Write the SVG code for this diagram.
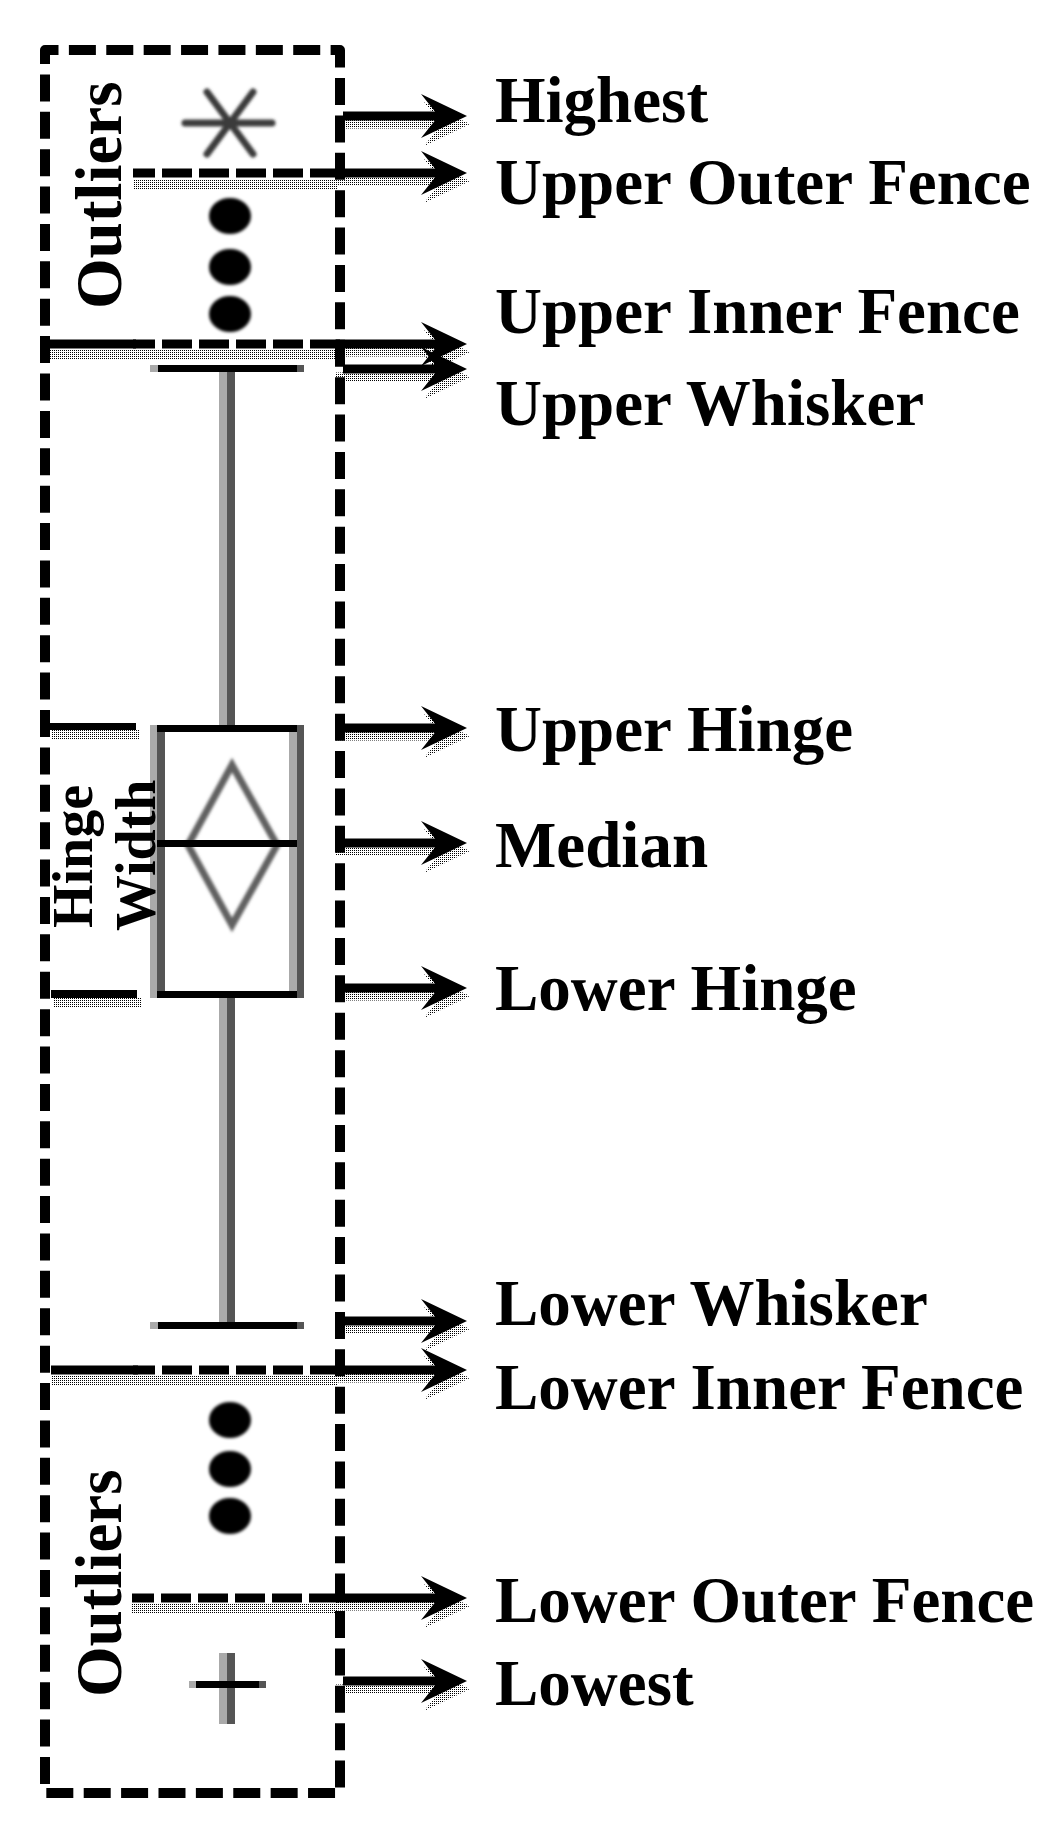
<svg xmlns="http://www.w3.org/2000/svg" width="1060" height="1831" viewBox="0 0 1060 1831">
<style>
.lbl{font-family:"Liberation Serif","Times New Roman",serif;font-weight:bold;font-size:65px;fill:#000}
.hw{font-size:56px}
.sh{fill:url(#st);stroke:none}
.shl{stroke:url(#st);stroke-width:9;fill:none}
.ln{stroke:#000;stroke-width:9;fill:none}
.dash{stroke-dasharray:30 7;stroke-dashoffset:8}
.lg{fill:#aaa}.dg{fill:#555}.bk{fill:#000}
.soft{filter:url(#bl)}
</style>
<defs>
<pattern id="st" width="2" height="2" patternUnits="userSpaceOnUse"><rect width="1" height="1" fill="#000"/></pattern>
<filter id="bl" x="-20%" y="-20%" width="140%" height="140%"><feGaussianBlur stdDeviation="1.4"/></filter>
<filter id="bl2" x="-30%" y="-30%" width="160%" height="160%"><feGaussianBlur stdDeviation="1.8"/></filter>
<path id="ah" d="M-32,-4.5 L-46,-22 L0,0 L-46,22 L-32,4.5 Z"/>
<ellipse id="dot" rx="21" ry="18" fill="#000"/>
</defs>
<rect width="1060" height="1831" fill="#fff"/>

<!-- outer dashed frame -->
<g id="frame">
<rect x="45" y="50" width="295" height="1743" fill="none" stroke="#000" stroke-width="10" stroke-dasharray="27 10.39" stroke-dashoffset="13.5" stroke-linejoin="round"/>
</g>

<!-- fence separators -->
<g id="fences">
<rect class="sh" x="133" y="179" width="205" height="10"/>
<line class="ln dash" x1="133" y1="173" x2="340" y2="173"/>
<rect class="sh" x="48" y="350" width="290" height="10"/>
<line class="ln" x1="48" y1="344" x2="136" y2="344"/>
<line class="ln dash" x1="133" y1="344" x2="340" y2="344"/>
<rect class="sh" x="51" y="1376" width="287" height="10"/>
<line class="ln" x1="51" y1="1370" x2="138" y2="1370"/>
<line class="ln dash" x1="133" y1="1370" x2="340" y2="1370"/>
<rect class="sh" x="132" y="1604" width="206" height="10"/>
<line class="ln dash" x1="132" y1="1598" x2="340" y2="1598"/>
</g>

<!-- hinge width marks -->
<g id="hinge-marks">
<rect class="sh" x="52" y="730" width="88" height="10"/>
<rect class="bk" x="50" y="723" width="86" height="7"/>
<rect class="sh" x="53" y="998" width="88" height="10"/>
<rect class="bk" x="51" y="990" width="86" height="8"/>
</g>

<!-- outlier symbols -->
<g id="highest-asterisk" class="soft" stroke="#3a3a3a" stroke-width="7" stroke-linecap="round">
<line x1="185" y1="123" x2="272" y2="123"/>
<line x1="207" y1="92" x2="253" y2="154"/>
<line x1="253" y1="92" x2="207" y2="154"/>
</g>
<g id="upper-outliers" filter="url(#bl2)">
<use href="#dot" x="230" y="216"/>
<use href="#dot" x="230" y="267"/>
<use href="#dot" x="230" y="314"/>
</g>
<g id="lower-outliers" filter="url(#bl2)">
<use href="#dot" x="230" y="1420"/>
<use href="#dot" x="230" y="1469"/>
<use href="#dot" x="230" y="1516"/>
</g>
<g id="lowest-plus">
<rect class="lg" x="219" y="1653" width="8" height="71"/>
<rect class="dg" x="227" y="1653" width="8" height="71"/>
<rect class="lg" x="189" y="1681" width="7" height="7"/>
<rect class="bk" x="196" y="1681" width="63" height="7"/>
<rect class="dg" x="259" y="1681" width="7" height="7"/>
</g>

<!-- whiskers -->
<g id="upper-whisker">
<rect class="lg" x="150" y="365" width="8" height="7"/>
<rect class="bk" x="158" y="365" width="139" height="7"/>
<rect class="dg" x="297" y="365" width="7" height="7"/>
<rect class="lg" x="219" y="372" width="8" height="353"/>
<rect class="dg" x="227" y="372" width="8" height="353"/>
</g>
<g id="lower-whisker">
<rect class="lg" x="219" y="998" width="8" height="324"/>
<rect class="dg" x="227" y="998" width="8" height="324"/>
<rect class="lg" x="150" y="1322" width="8" height="7"/>
<rect class="bk" x="158" y="1322" width="139" height="7"/>
<rect class="dg" x="297" y="1322" width="7" height="7"/>
</g>

<!-- box -->
<g id="box">
<rect class="lg" x="150" y="725" width="7" height="273"/>
<rect class="dg" x="157" y="725" width="8" height="273"/>
<rect class="lg" x="289" y="725" width="8" height="273"/>
<rect class="dg" x="297" y="725" width="7" height="273"/>
<rect class="bk" x="157" y="725" width="140" height="7"/>
<rect class="bk" x="157" y="991" width="140" height="7"/>
<polygon class="soft" points="232,765 277,845 232,925 188,845" fill="none" stroke="#606060" stroke-width="7"/>
<rect class="bk" x="157" y="840" width="140" height="7"/>
</g>

<!-- rotated side labels -->
<g id="label-outliers-top"><text class="lbl" transform="translate(121,309) rotate(-90)">Outliers</text></g>
<g id="label-outliers-bottom"><text class="lbl" transform="translate(121,1697) rotate(-90)">Outliers</text></g>
<g id="label-hinge-width">
<text class="lbl hw" transform="translate(92,928) rotate(-90)">Hinge</text>
<text class="lbl hw" transform="translate(155,931) rotate(-90)">Width</text>
</g>

<!-- connectors -->
<g id="connectors">
<g id="arrow-shadows">
<line class="shl" x1="336" y1="124" x2="440" y2="124"/><use class="sh" href="#ah" x="470" y="124"/>
<line class="shl" x1="336" y1="181" x2="440" y2="181"/><use class="sh" href="#ah" x="470" y="181"/>
<line class="shl" x1="336" y1="352" x2="440" y2="352"/><use class="sh" href="#ah" x="470" y="352"/>
<line class="shl" x1="336" y1="377" x2="440" y2="377"/><use class="sh" href="#ah" x="470" y="377"/>
<line class="shl" x1="336" y1="736" x2="440" y2="736"/><use class="sh" href="#ah" x="470" y="736"/>
<line class="shl" x1="336" y1="851" x2="440" y2="851"/><use class="sh" href="#ah" x="470" y="851"/>
<line class="shl" x1="336" y1="996" x2="440" y2="996"/><use class="sh" href="#ah" x="470" y="996"/>
<line class="shl" x1="336" y1="1329" x2="440" y2="1329"/><use class="sh" href="#ah" x="470" y="1329"/>
<line class="shl" x1="336" y1="1378" x2="440" y2="1378"/><use class="sh" href="#ah" x="470" y="1378"/>
<line class="shl" x1="336" y1="1606" x2="440" y2="1606"/><use class="sh" href="#ah" x="470" y="1606"/>
<line class="shl" x1="336" y1="1689" x2="440" y2="1689"/><use class="sh" href="#ah" x="470" y="1689"/>
</g>
<g id="arrows" fill="#000">
<line class="ln" x1="343" y1="116" x2="437" y2="116"/><use href="#ah" x="467" y="116"/>
<line class="ln" x1="336" y1="173" x2="437" y2="173"/><use href="#ah" x="467" y="173"/>
<line class="ln" x1="336" y1="344" x2="437" y2="344"/><use href="#ah" x="467" y="344"/>
<line class="ln" x1="343" y1="369" x2="437" y2="369"/><use href="#ah" x="467" y="369"/>
<line class="ln" x1="343" y1="728" x2="437" y2="728"/><use href="#ah" x="467" y="728"/>
<line class="ln" x1="343" y1="843" x2="437" y2="843"/><use href="#ah" x="467" y="843"/>
<line class="ln" x1="343" y1="988" x2="437" y2="988"/><use href="#ah" x="467" y="988"/>
<line class="ln" x1="343" y1="1321" x2="437" y2="1321"/><use href="#ah" x="467" y="1321"/>
<line class="ln" x1="336" y1="1370" x2="437" y2="1370"/><use href="#ah" x="467" y="1370"/>
<line class="ln" x1="336" y1="1598" x2="437" y2="1598"/><use href="#ah" x="467" y="1598"/>
<line class="ln" x1="343" y1="1681" x2="437" y2="1681"/><use href="#ah" x="467" y="1681"/>
</g>
</g>

<!-- right-hand labels -->
<g id="label-highest"><text class="lbl" x="495" y="122">Highest</text></g>
<g id="label-upper-outer-fence"><text class="lbl" x="495" y="204">Upper Outer Fence</text></g>
<g id="label-upper-inner-fence"><text class="lbl" x="495" y="333">Upper Inner Fence</text></g>
<g id="label-upper-whisker"><text class="lbl" x="495" y="425">Upper Whisker</text></g>
<g id="label-upper-hinge"><text class="lbl" x="495" y="751">Upper Hinge</text></g>
<g id="label-median"><text class="lbl" x="495" y="867">Median</text></g>
<g id="label-lower-hinge"><text class="lbl" x="495" y="1010">Lower Hinge</text></g>
<g id="label-lower-whisker"><text class="lbl" x="495" y="1325">Lower Whisker</text></g>
<g id="label-lower-inner-fence"><text class="lbl" x="495" y="1409">Lower Inner Fence</text></g>
<g id="label-lower-outer-fence"><text class="lbl" x="495" y="1622">Lower Outer Fence</text></g>
<g id="label-lowest"><text class="lbl" x="495" y="1705">Lowest</text></g>
</svg>
